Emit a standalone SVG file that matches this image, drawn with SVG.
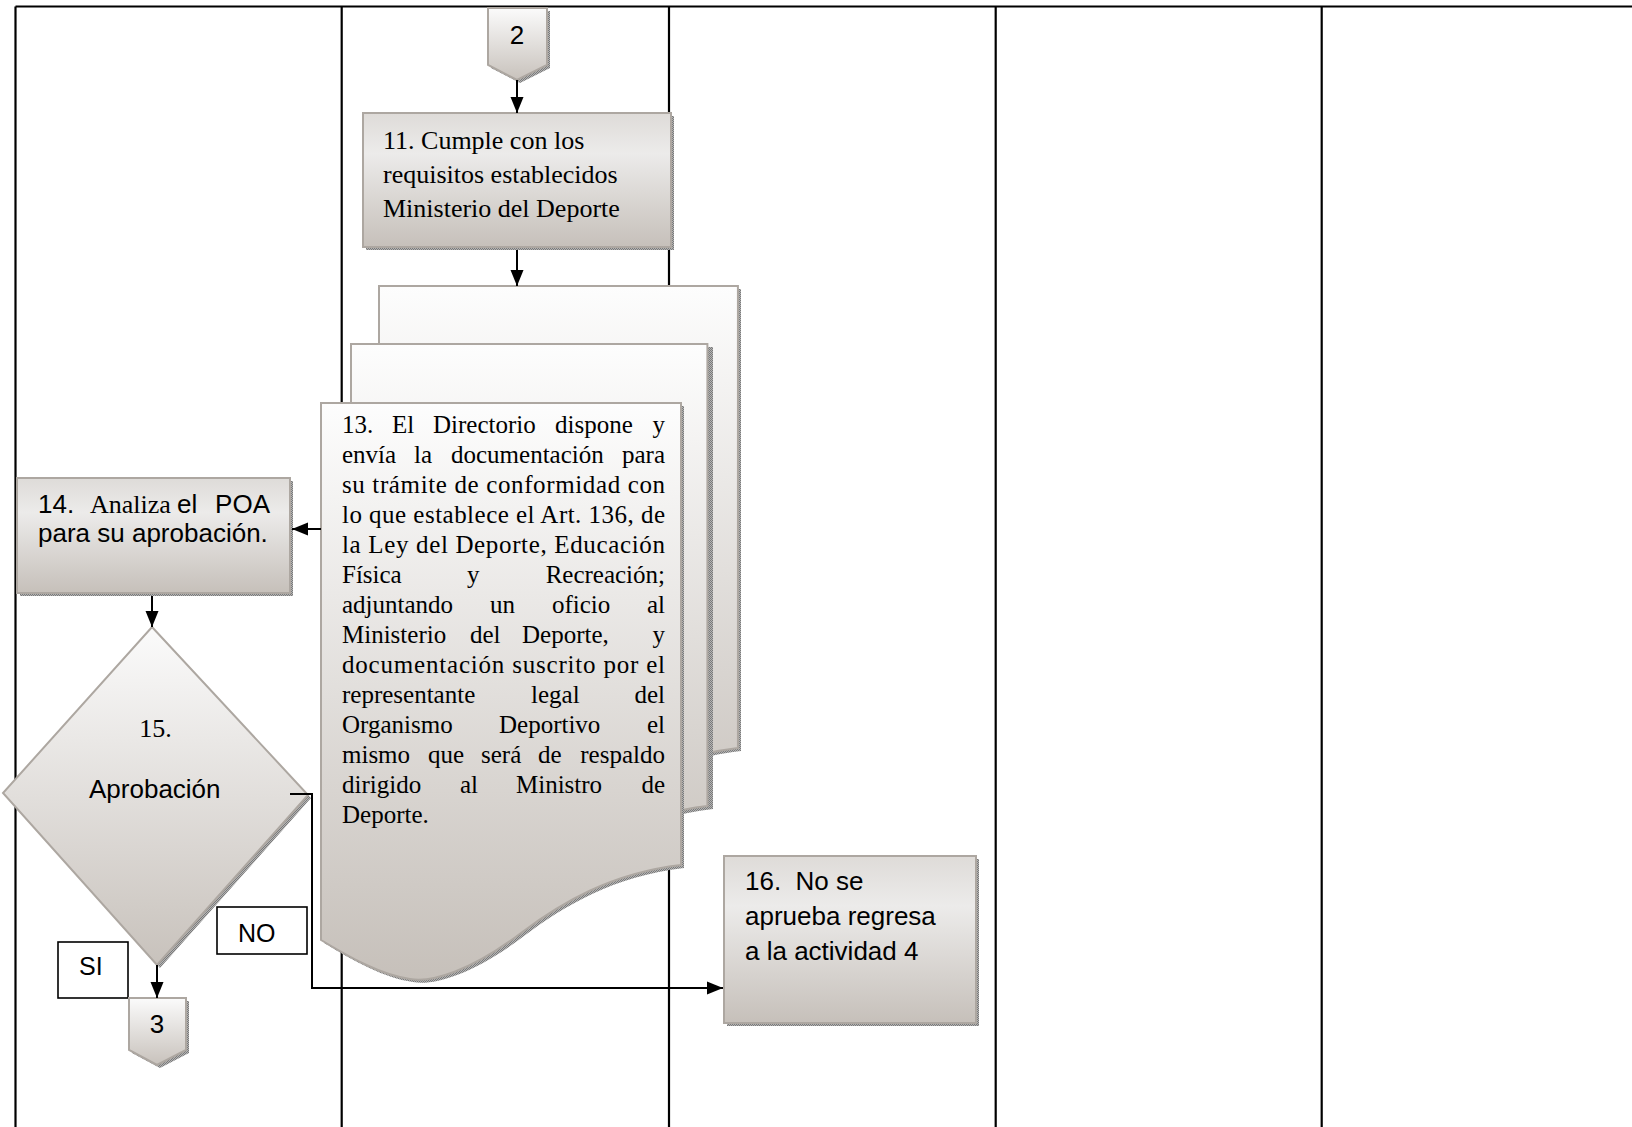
<svg xmlns="http://www.w3.org/2000/svg" width="1632" height="1127" viewBox="0 0 1632 1127">
  <defs>
    <linearGradient id="fillGrad" x1="0" y1="0" x2="0" y2="1">
      <stop offset="0" stop-color="#fbfbfb"/>
      <stop offset="1" stop-color="#c8c2bc"/>
    </linearGradient>
    <linearGradient id="boxGrad" x1="0" y1="0" x2="0" y2="1">
      <stop offset="0" stop-color="#dedbd8"/>
      <stop offset="0.3" stop-color="#ecebea"/>
      <stop offset="1" stop-color="#c6c0ba"/>
    </linearGradient>
    <linearGradient id="docGrad" x1="0" y1="0" x2="0" y2="1">
      <stop offset="0" stop-color="#fdfdfd"/>
      <stop offset="1" stop-color="#c6c0ba"/>
    </linearGradient>
    <pattern id="shadowDots" width="2" height="2" patternUnits="userSpaceOnUse">
      <rect width="2" height="2" fill="#b4b4b4"/>
      <rect width="1" height="1" fill="#7a7a7a"/>
      <rect x="1" y="1" width="1" height="1" fill="#7a7a7a"/>
    </pattern>
    <marker id="arrow" markerUnits="userSpaceOnUse" markerWidth="16" markerHeight="14" refX="16" refY="7" orient="auto">
      <path d="M0,0.5 L16,7 L0,13.5 Z" fill="#000"/>
    </marker>
    <!-- document outline with wavy bottom, origin at top-left -->
    <path id="docShape" d="M0,0 H360 V462 C290,470 240,500 200,530 C150,568 110,580 89,576 C60,572 30,555 0,537 Z"/>
  </defs>
  <style>
    .lane { stroke: #000; stroke-width: 2.2; fill: none; }
    .shape { stroke: #ada7a1; stroke-width: 2; }
    .shadow { fill: url(#shadowDots); }
    .conn { stroke: #000; stroke-width: 2; fill: none; }
    .tag { fill: #fff; stroke: #000; stroke-width: 1.6; }
    .serif { font-family: "Liberation Serif", "Times New Roman", serif; fill: #000; }
    .sans { font-family: "Liberation Sans", Arial, sans-serif; fill: #000; }
  </style>

  <rect width="1632" height="1127" fill="#fff"/>

  <!-- swimlane grid -->
  <g id="lanes">
    <line class="lane" x1="15.5" y1="6.5" x2="1632" y2="6.5"/>
    <line class="lane" x1="15.5" y1="6.5" x2="15.5" y2="1127"/>
    <line class="lane" x1="341.7" y1="6.5" x2="341.7" y2="1127"/>
    <line class="lane" x1="669" y1="6.5" x2="669" y2="1127"/>
    <line class="lane" x1="995.7" y1="6.5" x2="995.7" y2="1127"/>
    <line class="lane" x1="1321.7" y1="6.5" x2="1321.7" y2="1127"/>
  </g>

  <!-- off-page connector 2 -->
  <g id="node-connector-2">
    <path class="shadow" d="M491,11 H550 V68 L520,83 L491,68 Z"/>
    <path class="shape" fill="url(#fillGrad)" d="M488,8 H547 V65 L517,80 L488,65 Z"/>
    <text class="sans" x="517" y="44" font-size="26" text-anchor="middle">2</text>
  </g>

  <!-- step 11 -->
  <g id="node-11">
    <rect class="shadow" x="366" y="116" width="308" height="134"/>
    <rect class="shape" fill="url(#boxGrad)" x="363" y="113" width="308" height="134"/>
    <text class="serif" font-size="26">
      <tspan x="383" y="149">11. Cumple con los</tspan>
      <tspan x="383" y="183">requisitos establecidos</tspan>
      <tspan x="383" y="217">Ministerio del Deporte</tspan>
    </text>
  </g>

  <!-- step 13: stacked documents -->
  <g id="node-13">
    <use href="#docShape" class="shadow" transform="translate(381,289)"/>
    <use href="#docShape" class="shape" fill="url(#docGrad)" transform="translate(379,286) scale(0.997,1)"/>
    <use href="#docShape" class="shadow" transform="translate(353,347)"/>
    <use href="#docShape" class="shape" fill="url(#docGrad)" transform="translate(351,344) scale(0.99,1)"/>
    <use href="#docShape" class="shadow" transform="translate(324,406)"/>
    <use href="#docShape" class="shape" fill="url(#docGrad)" transform="translate(321,403)"/>
    <g class="serif" font-size="25">
      <text y="433"><tspan x="342">13.</tspan><tspan x="392">El</tspan><tspan x="433">Directorio</tspan><tspan x="555">dispone</tspan><tspan x="665" text-anchor="end">y</tspan></text>
      <text y="463"><tspan x="342">envía</tspan><tspan x="414">la</tspan><tspan x="451">documentación</tspan><tspan x="665" text-anchor="end">para</tspan></text>
      <text x="342" y="493" textLength="323" lengthAdjust="spacing">su trámite de conformidad con</text>
      <text x="342" y="523" textLength="323" lengthAdjust="spacing">lo que establece el Art. 136, de</text>
      <text x="342" y="553" textLength="323" lengthAdjust="spacing">la Ley del Deporte, Educación</text>
      <text y="583"><tspan x="342">Física</tspan><tspan x="467">y</tspan><tspan x="665" text-anchor="end">Recreación;</tspan></text>
      <text y="613"><tspan x="342">adjuntando</tspan><tspan x="490">un</tspan><tspan x="552">oficio</tspan><tspan x="665" text-anchor="end">al</tspan></text>
      <text y="643"><tspan x="342">Ministerio</tspan><tspan x="470">del</tspan><tspan x="522">Deporte,</tspan><tspan x="665" text-anchor="end">y</tspan></text>
      <text x="342" y="673" textLength="323" lengthAdjust="spacing">documentación suscrito por el</text>
      <text y="703"><tspan x="342">representante</tspan><tspan x="531">legal</tspan><tspan x="665" text-anchor="end">del</tspan></text>
      <text y="733"><tspan x="342">Organismo</tspan><tspan x="499">Deportivo</tspan><tspan x="665" text-anchor="end">el</tspan></text>
      <text y="763"><tspan x="342">mismo</tspan><tspan x="428">que</tspan><tspan x="481">será</tspan><tspan x="538">de</tspan><tspan x="665" text-anchor="end">respaldo</tspan></text>
      <text y="793"><tspan x="342">dirigido</tspan><tspan x="460">al</tspan><tspan x="516">Ministro</tspan><tspan x="665" text-anchor="end">de</tspan></text>
      <text x="342" y="823">Deporte.</text>
    </g>
  </g>

  <!-- step 14 -->
  <g id="node-14">
    <rect class="shadow" x="20" y="481" width="273" height="115"/>
    <rect class="shape" fill="url(#boxGrad)" x="17" y="478" width="273" height="115"/>
    <text y="513" font-size="26"><tspan class="sans" x="38">14.</tspan><tspan class="serif" x="90">Analiza</tspan><tspan class="sans" x="177">el</tspan><tspan class="sans" x="270" text-anchor="end">POA</tspan></text>
    <text class="sans" x="38" y="542" font-size="26">para su aprobación.</text>
  </g>

  <!-- decision 15 -->
  <g id="node-15">
    <path class="shadow" d="M155,630 L311,798 L160,968 L6,796 Z"/>
    <path class="shape" fill="url(#fillGrad)" d="M152,627 L308,795 L157,965 L3,793 Z"/>
    <text class="serif" x="155.5" y="737" font-size="26" text-anchor="middle">15.</text>
    <text class="sans" x="89" y="798" font-size="26">Aprobación</text>
  </g>

  <!-- decision labels -->
  <g id="label-no">
    <rect class="tag" x="217" y="907" width="90" height="47"/>
    <text class="sans" x="238" y="942" font-size="25">NO</text>
  </g>
  <g id="label-si">
    <rect class="tag" x="58" y="942" width="70" height="56"/>
    <text class="sans" x="79" y="975" font-size="25">SI</text>
  </g>

  <!-- off-page connector 3 -->
  <g id="node-connector-3">
    <path class="shadow" d="M132,1001 H189 V1053 L160,1068 L132,1053 Z"/>
    <path class="shape" fill="url(#fillGrad)" d="M129,998 H186 V1050 L157,1065 L129,1050 Z"/>
    <text class="sans" x="157" y="1033" font-size="26" text-anchor="middle">3</text>
  </g>

  <!-- step 16 -->
  <g id="node-16">
    <rect class="shadow" x="727" y="859" width="252" height="167"/>
    <rect class="shape" fill="url(#boxGrad)" x="724" y="856" width="252" height="167"/>
    <text class="sans" font-size="26" xml:space="preserve"><tspan x="745" y="890">16.  No se</tspan><tspan x="745" y="925">aprueba regresa</tspan><tspan x="745" y="960">a la actividad 4</tspan></text>
  </g>

  <!-- connectors -->
  <g id="connectors">
    <line class="conn" x1="517" y1="80" x2="517" y2="113" marker-end="url(#arrow)"/>
    <line class="conn" x1="517" y1="250" x2="517" y2="286" marker-end="url(#arrow)"/>
    <line class="conn" x1="321" y1="529" x2="292" y2="529" marker-end="url(#arrow)"/>
    <line class="conn" x1="152" y1="596" x2="152" y2="627" marker-end="url(#arrow)"/>
    <line class="conn" x1="157" y1="965" x2="157" y2="998" marker-end="url(#arrow)"/>
    <polyline class="conn" points="290,794 312,794 312,988 723,988" marker-end="url(#arrow)"/>
  </g>
</svg>
